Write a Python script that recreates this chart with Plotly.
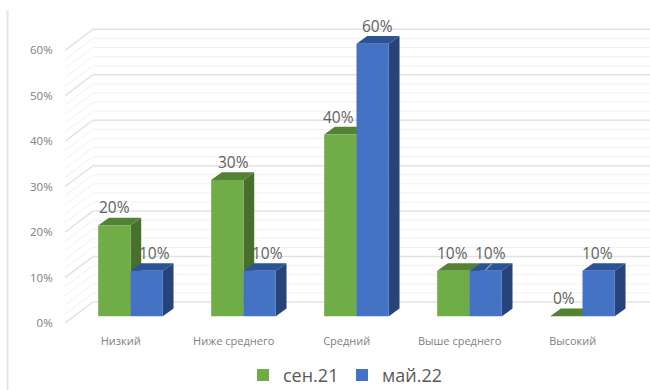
import plotly.graph_objects as go

# Survey levels and the share of respondents at each level, in percent
categories = ["Низкий", "Ниже среднего", "Средний", "Выше среднего", "Высокий"]
sep_21 = [20, 30, 40, 10, 0]
may_22 = [10, 10, 60, 10, 10]
y_ticks = [0, 10, 20, 30, 40, 50, 60]
y_tick_labels = ["0%", "10%", "20%", "30%", "40%", "50%", "60%"]
minor_ticks = [v for v in range(2, 60, 2) if v % 10]

SERIES = [
    ("сен.21", sep_21, "#70ad47", "#47702c", "#548235"),
    ("май.22", may_22, "#4472c4", "#264478", "#2c5396"),
]

# Scale of the front plane, in pixels per unit of each axis
PX_X, PX_Y = 113.0, 4.54
LEFT, RIGHT, BOTTOM = 65, 650, 322.7
x_front = [(LEFT - 120.7) / PX_X, (RIGHT - 120.7) / PX_X]
y_front = [0, BOTTOM / PX_Y]

# The bars stand a little way behind the front plane
SHIFT_X, SHIFT_Y = 9.8 / PX_X, 6.7 / PX_Y
BAR_W = 0.286
BAR_DX, BAR_DY = 10.7 / PX_X, 7.7 / PX_Y
WALL_DX, WALL_DY = 28 / PX_X, 21 / PX_Y


def wall_lines(levels):
    """Side-wall diagonal plus back-wall run for each level."""
    xs, ys = [], []
    x0 = x_front[0]
    for v in levels:
        xs += [x0, x0 + WALL_DX, x_front[1], None]
        ys += [v, v + WALL_DY, v + WALL_DY, None]
    return xs, ys


def polygon(x, y, colour):
    return go.Scatter(x=x, y=y, mode="lines", fill="toself", fillcolor=colour,
                      line=dict(width=0), hoverinfo="skip", showlegend=False)


fig = go.Figure()

for levels, colour, width in [(minor_ticks, "#f1f1f1", 1), (y_ticks, "#e3e3e3", 1.5)]:
    xs, ys = wall_lines(levels)
    fig.add_trace(go.Scatter(x=xs, y=ys, mode="lines", line=dict(color=colour, width=width),
                             hoverinfo="skip", showlegend=False))

# Side and top faces go on the lower axes, so the bars' front faces cover them
for i in range(len(categories)):
    for s, (name, values, front, side, top) in enumerate(SERIES):
        v = values[i]
        xl = i + SHIFT_X + (s - 1) * BAR_W
        xr = xl + BAR_W
        b = SHIFT_Y
        h = v + SHIFT_Y
        if v > 0:
            fig.add_trace(polygon([xr, xr + BAR_DX, xr + BAR_DX, xr, xr],
                                  [b, b + BAR_DY, h + BAR_DY, h, b], side))
        fig.add_trace(polygon([xl, xl + BAR_DX, xr + BAR_DX, xr, xl],
                              [h, h + BAR_DY, h + BAR_DY, h, h], top))

for name, values, front, side, top in SERIES:
    fig.add_trace(go.Bar(x=list(range(len(categories))), y=values, name=name,
                         marker=dict(color=front, line=dict(width=0)),
                         offsetgroup=name, xaxis="x2", yaxis="y2", hoverinfo="x+y"))

# Value labels sit above each bar's top face
LABEL_FONT = dict(family="Open Sans", size=15.5, color="#5f5f5f")
label_nudge = {
    "сен.21": [0, 6, -2, -1, -2],
    "май.22": [8, 8, 5, 5, -1],
}
for s, (name, values, *_colours) in enumerate(SERIES):
    for i, v in enumerate(values):
        fig.add_annotation(x=i + (s - 0.5) * BAR_W, y=v, xref="x2", yref="y2",
                           text=f"{v}%", showarrow=False, font=LABEL_FONT,
                           xshift=label_nudge[name][i], yshift=18, yanchor="middle")

# Short leader under the fourth group's second label
lead_x = 3 + 0.5 * BAR_W
fig.add_shape(type="line", xref="x2", yref="y2", x0=lead_x, y0=may_22[3] + 0.2,
              x1=lead_x + 0.055, y1=may_22[3] + 1.6, line=dict(color="#a6a6a6", width=1.2))

# Thin rule down the left edge of the page
fig.add_shape(type="line", xref="paper", yref="paper",
              x0=(7.5 - LEFT) / (RIGHT - LEFT), x1=(7.5 - LEFT) / (RIGHT - LEFT),
              y0=-67.3 / BOTTOM, y1=(BOTTOM - 10) / BOTTOM,
              line=dict(color="#e6e6e6", width=2))

fig.update_layout(
    width=650, height=390,
    margin=dict(l=LEFT, r=0, t=0, b=390 - BOTTOM, autoexpand=False),
    paper_bgcolor="white", plot_bgcolor="white",
    barmode="group", bargap=1 - 2 * BAR_W, bargroupgap=0,
    font=dict(family="Open Sans", color="#7f7f7f", size=11.5),
    xaxis=dict(range=x_front, tickmode="array", tickvals=list(range(len(categories))),
               ticktext=categories, showgrid=False, zeroline=False, showline=False,
               ticks="outside", ticklen=8, tickcolor="rgba(0,0,0,0)",
               tickfont=dict(size=11, color="#808080")),
    yaxis=dict(range=y_front, tickmode="array", tickvals=y_ticks, ticktext=y_tick_labels,
               showgrid=False, zeroline=False, showline=False,
               ticks="outside", ticklen=9, tickcolor="rgba(0,0,0,0)",
               tickfont=dict(size=11.5, color="#808080")),
    xaxis2=dict(range=[x_front[0] - SHIFT_X, x_front[1] - SHIFT_X], overlaying="x", visible=False),
    yaxis2=dict(range=[y_front[0] - SHIFT_Y, y_front[1] - SHIFT_Y], overlaying="y", visible=False),
    legend=dict(orientation="h", xref="paper", yref="paper", x=(243 - LEFT) / (RIGHT - LEFT),
                y=-(375 - BOTTOM) / BOTTOM, xanchor="left", yanchor="middle",
                font=dict(family="Open Sans", size=18, color="#595959"),
                entrywidth=54, entrywidthmode="pixels", bgcolor="rgba(0,0,0,0)"),
)

fig.write_html("out.html")
